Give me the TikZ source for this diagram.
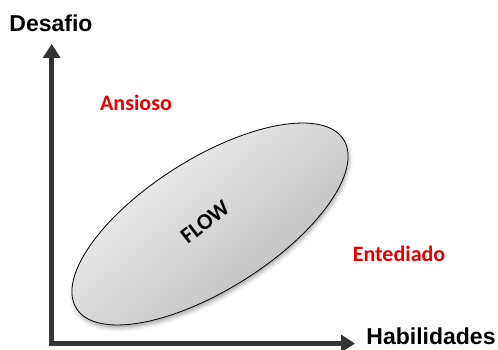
\documentclass[tikz,border=0pt]{standalone}
\usepackage{fontspec}
\setmainfont{Liberation Sans}
\newfontfamily\carlito{Carlito}
\usetikzlibrary{arrows.meta,shadows.blur}
\definecolor{axisgray}{RGB}{51,51,51}
\definecolor{zonered}{RGB}{232,0,0}
\tikzset{
  axisline/.style={line width=5.5pt, color=axisgray, line join=miter,
    {Triangle[width=17pt,length=14pt]}-{Triangle[width=17pt,length=14pt]}},
  axislabel/.style={font=\bfseries\fontsize{23}{27}\selectfont, text=black, inner sep=0pt, anchor=base},
  zonelabel/.style={font=\carlito\bfseries\fontsize{22}{26}\selectfont, text=zonered, inner sep=0pt, anchor=base},
  flowlabel/.style={font=\carlito\bfseries\fontsize{22.5}{26}\selectfont, text=black, inner sep=0pt},
  flowshape/.style={draw=black, line width=0.8pt, top color=white!96!black, bottom color=white!72!black,
    shading angle=40, blur shadow={shadow xshift=1pt, shadow yshift=-3pt, shadow blur radius=4pt, shadow opacity=35}}
}
\begin{document}
\begin{tikzpicture}[x=1pt,y=1pt]
\useasboundingbox (0,0) rectangle (498,350);
\coordinate (origin) at (51.7,6.5);
\coordinate (ytip) at (51.7,306);
\coordinate (xtip) at (355,6.5);
\path[flowshape, rotate around={32.3:(210,126)}] (210,126) ellipse [x radius=158, y radius=65.5];
\draw[axisline] (ytip) -- (origin) -- (xtip);
\node[axislabel] (desafio) at (51,318) {Desafio};
\node[axislabel] (habilidades) at (431,5) {Habilidades};
\node[zonelabel] (ansioso) at (136,239) {Ansioso};
\node[zonelabel] (entediado) at (399,88) {Entediado};
\node[flowlabel, rotate=38] (flow) at (205,128) {FLOW};
\end{tikzpicture}
\end{document}
